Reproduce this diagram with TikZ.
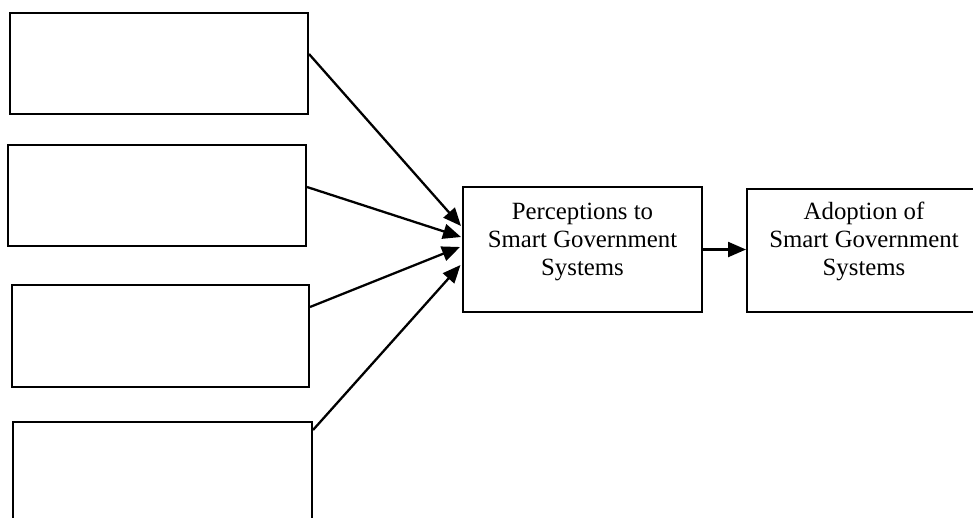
\documentclass[tikz,border=0pt]{standalone}
\usepackage{fontspec}
\setmainfont{Liberation Serif}
\usetikzlibrary{arrows.meta}
\begin{document}
\begin{tikzpicture}[x=1pt,y=-1pt,
  box/.style={draw=black,line width=2pt,fill=white,inner sep=0pt},
  lbl/.style={align=center,font=\fontsize{24.8}{28}\selectfont,inner sep=0pt},
  conn/.style={line width=2.3pt,-{Triangle[length=18pt,width=15pt]}}]
\useasboundingbox (0,0) rectangle (973,517);
\clip (0,0) rectangle (973,517);
\fill[white] (0,0) rectangle (973,517);
\node[box,minimum width=298pt,minimum height=101pt] (b1) at (159,63.5) {};
\node[box,minimum width=298pt,minimum height=101pt] (b2) at (157,195.5) {};
\node[box,minimum width=297pt,minimum height=102pt] (b3) at (160.5,336) {};
\node[box,minimum width=299pt,minimum height=101pt] (b4) at (162.5,472.5) {};
\node[box,minimum width=239pt,minimum height=125pt] (mid) at (582.5,249.5) {};
\node[box,minimum width=234pt,minimum height=123pt] (res) at (864,250.5) {};
\node[lbl] (midtxt) at ([yshift=8pt]mid.center) {Perceptions to\\Smart Government\\Systems};
\node[lbl] (restxt) at ([yshift=9pt]res.center) {Adoption of\\Smart Government\\Systems};
\draw[conn] ([yshift=9.5pt]b1.east) -- ([yshift=23.5pt,xshift=-1pt]mid.west);
\draw[conn] ([yshift=8.5pt]b2.east) -- ([yshift=12.5pt,xshift=-1pt]mid.west);
\draw[conn] ([yshift=29pt]b3.east) -- ([yshift=2.5pt,xshift=-2pt]mid.west);
\draw[conn] ([yshift=42.5pt]b4.east) -- ([yshift=-15.5pt,xshift=-1.5pt]mid.west);
\draw[conn] (mid.east) -- (mid.east -| res.west);
\end{tikzpicture}
\end{document}
